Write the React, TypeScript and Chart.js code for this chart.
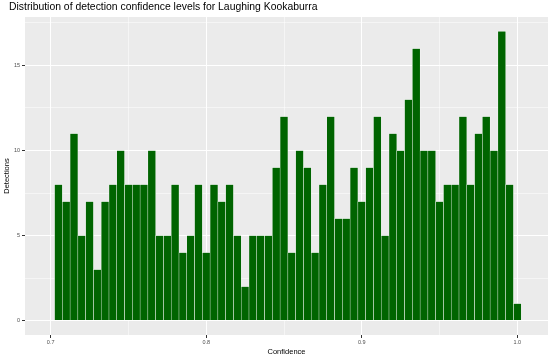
import React, { useEffect, useRef } from "react";
import { Chart, registerables } from "chart.js";

Chart.register(...registerables);

const titleText = "Distribution of detection confidence levels for Laughing Kookaburra";
const xTitle = "Confidence";
const yTitle = "Detections";

const binStart = 0.7025;
const binWidth = 0.005;
const counts = [
  8, 7, 11, 5, 7, 3, 7, 8, 10, 8, 8, 8, 10, 5, 5, 8, 4, 5, 8, 4,
  8, 7, 8, 5, 2, 5, 5, 5, 9, 12, 4, 10, 9, 4, 8, 12, 6, 6, 9, 7,
  9, 12, 5, 11, 10, 13, 16, 10, 10, 7, 8, 8, 12, 8, 11, 12, 10, 17, 8, 1,
];

const xMajor = [0.7, 0.8, 0.9, 1.0];
const xMajorLabels = ["0.7", "0.8", "0.9", "1.0"];
const xMinor = [0.75, 0.85, 0.95];
const yMajor = [0, 5, 10, 15];
const yMajorLabels = ["0", "5", "10", "15"];
const yMinor = [2.5, 7.5, 12.5, 17.5];

const FONT = "'Liberation Sans', Arial, sans-serif";

function idxOf(arr: number[], v: number) {
  return arr.findIndex((a) => Math.abs(a - v) < 1e-6);
}

export default function App() {
  const ref = useRef<HTMLCanvasElement | null>(null);
  useEffect(() => {
    if (!ref.current) return;
    const data = counts.map((c, i) => ({ x: binStart + binWidth * (i + 0.5), y: c }));
    const bgPlugin = {
      id: "panelBg",
      beforeDraw(chart: any) {
        const { ctx, chartArea } = chart;
        ctx.save();
        ctx.fillStyle = "#ebebeb";
        ctx.fillRect(chartArea.left, chartArea.top, chartArea.right - chartArea.left, chartArea.bottom - chartArea.top);
        ctx.restore();
      },
      afterDraw(chart: any) {
        const { ctx } = chart;
        ctx.save();
        ctx.fillStyle = "#000000";
        ctx.font = `10.4px ${FONT}`;
        ctx.textBaseline = "middle";
        ctx.textAlign = "left";
        ctx.fillText(titleText, 9, 7);
        ctx.restore();
      },
    };
    const chart = new Chart(ref.current, {
      type: "bar",
      data: {
        datasets: [
          {
            data: data as any,
            backgroundColor: "#006400",
            borderColor: "#ffffff",
            borderWidth: 0.5,
            barPercentage: 1,
            categoryPercentage: 1,
          },
        ],
      },
      options: {
        responsive: false,
        animation: false,
        layout: { padding: { top: 17, right: 5, left: 0, bottom: 0 } },
        plugins: { legend: { display: false }, tooltip: { enabled: false }, title: { display: false } },
        scales: {
          x: {
            type: "linear",
            offset: false,
            min: 0.6835,
            max: 1.0197,
            afterBuildTicks(scale: any) {
              scale.ticks = [...xMajor, ...xMinor].sort((a, b) => a - b).map((v) => ({ value: v }));
            },
            afterFit(scale: any) {
              scale.height = 25;
            },
            ticks: {
              autoSkip: false,
              maxRotation: 0,
              padding: 1,
              color: "#4d4d4d",
              font: { size: 5.5, family: FONT },
              callback(value: any) {
                const i = idxOf(xMajor, Number(value));
                return i >= 0 ? xMajorLabels[i] : "";
              },
            },
            grid: {
              offset: false,
              color: "#ffffff",
              lineWidth: (ctx: any) => (idxOf(xMajor, ctx.tick?.value) >= 0 ? 1 : 0.5),
              tickColor: (ctx: any) => (idxOf(xMajor, ctx.tick?.value) >= 0 ? "#333333" : "rgba(0,0,0,0)"),
              tickLength: 3,
              drawTicks: true,
            },
            border: { display: false },
            title: {
              display: true,
              text: xTitle,
              color: "#000000",
              font: { size: 7.5, family: FONT },
              padding: { top: 0, bottom: 4 },
            },
          },
          y: {
            type: "linear",
            min: -0.85,
            max: 17.85,
            afterBuildTicks(scale: any) {
              scale.ticks = [...yMajor, ...yMinor].sort((a, b) => a - b).map((v) => ({ value: v }));
            },
            afterFit(scale: any) {
              scale.width = 25;
            },
            ticks: {
              autoSkip: false,
              padding: 2,
              color: "#4d4d4d",
              font: { size: 5.5, family: FONT },
              callback(value: any) {
                const i = idxOf(yMajor, Number(value));
                return i >= 0 ? yMajorLabels[i] : "";
              },
            },
            grid: {
              offset: false,
              color: "#ffffff",
              lineWidth: (ctx: any) => (idxOf(yMajor, ctx.tick?.value) >= 0 ? 1 : 0.5),
              tickColor: (ctx: any) => (idxOf(yMajor, ctx.tick?.value) >= 0 ? "#333333" : "rgba(0,0,0,0)"),
              tickLength: 3,
            },
            border: { display: false },
            title: {
              display: true,
              text: yTitle,
              color: "#000000",
              font: { size: 7.5, family: FONT },
              padding: { top: 2.5, bottom: 0 },
            },
          },
        },
      },
      plugins: [bgPlugin],
    });
    return () => chart.destroy();
  }, []);
  return (
    <div style={{ position: "fixed", left: 0, top: 0, width: 553, height: 360, background: "#ffffff" }}>
      <canvas ref={ref} width={553} height={360} style={{ display: "block" }} />
    </div>
  );
}
